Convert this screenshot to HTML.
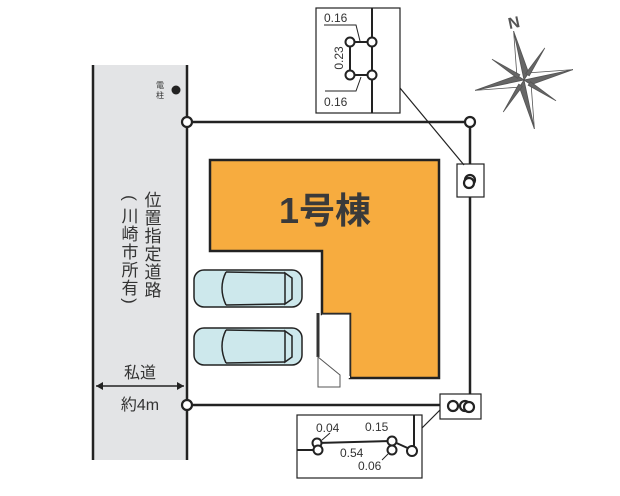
<!DOCTYPE html>
<html><head><meta charset="utf-8"><style>html,body{margin:0;padding:0;background:#fff}svg{display:block}text{font-family:"Liberation Sans","Noto Sans CJK JP",sans-serif}</style></head><body>
<svg width="620" height="496" viewBox="0 0 620 496" xmlns="http://www.w3.org/2000/svg">
<rect x="93" y="65" width="94" height="395" fill="#e3e4e6"/>
<line x1="93" y1="65" x2="93" y2="460" stroke="#222" stroke-width="2.5"/>
<line x1="187" y1="65" x2="187" y2="460" stroke="#222" stroke-width="2.5"/>
<g font-size="17" fill="#333" text-anchor="middle">
<text x="153" y="206">位</text><text x="153" y="224">置</text><text x="153" y="242">指</text><text x="153" y="260">定</text><text x="153" y="278">道</text><text x="153" y="296">路</text>
<text transform="translate(130 198) rotate(90)" dominant-baseline="central">(</text>
<text x="130" y="222">川</text><text x="130" y="240">崎</text><text x="130" y="258">市</text><text x="130" y="276">所</text><text x="130" y="294">有</text>
<text transform="translate(130 301) rotate(90)" dominant-baseline="central">)</text>
<text x="140" y="378" font-size="16">私道</text>
<text x="140" y="410" font-size="16">約4m</text>
</g>
<line x1="96" y1="386" x2="184" y2="386" stroke="#222" stroke-width="1.5"/>
<path d="M96 386l7-4v8zM184 386l-7-4v8z" fill="#222"/>
<text x="160" y="88" font-size="8" fill="#333" text-anchor="middle">電</text>
<text x="160" y="98" font-size="8" fill="#333" text-anchor="middle">柱</text>
<circle cx="176" cy="90" r="4.5" fill="#222"/>
<!-- building -->
<path d="M210 160H439V378H350V314H322V251H210Z" fill="#f7ac3f" stroke="#222" stroke-width="2.5"/>
<rect x="322" y="314" width="28" height="64" fill="#fff"/>
<path d="M318 313V357" stroke="#333" stroke-width="3"/>
<path d="M322 314H350V376" stroke="#333" stroke-width="1.2" fill="none"/>
<path d="M318 357L340 375V387H318Z" fill="#fff" stroke="#555" stroke-width="1"/>
<text x="325" y="223" font-size="36" font-weight="bold" fill="#3a3a3a" text-anchor="middle">1号棟</text>
<!-- cars -->
<g id="car" stroke="#222" stroke-width="1.5" fill="#cde8ec">
<rect x="194" y="270" width="108" height="37" rx="10"/>
<path d="M226 272Q218 288 226 305" fill="none"/>
<path d="M285 273L292 278V299L285 304Z"/>
<line x1="226" y1="272" x2="285" y2="273"/>
<line x1="226" y1="305" x2="285" y2="304"/>
</g>
<use href="#car" y="58"/>
<!-- boundary -->
<g stroke="#222" stroke-width="2.5" fill="none">
<line x1="187" y1="122" x2="470" y2="122"/>
<line x1="470" y1="122" x2="470" y2="405"/>
<line x1="187" y1="405" x2="470" y2="405"/>
</g>
<rect x="457" y="164" width="27" height="33" fill="#fff" stroke="#222" stroke-width="1.2"/>
<rect x="440" y="394" width="41" height="25" fill="#fff" stroke="#222" stroke-width="1.2"/>
<g fill="#fff" stroke="#222" stroke-width="2.2">
<circle cx="187" cy="122" r="5"/><circle cx="470" cy="122" r="5"/><circle cx="187" cy="405" r="5"/>
<circle cx="470" cy="180" r="5"/><circle cx="469" cy="183" r="5"/>
<circle cx="453" cy="406" r="5"/><circle cx="465" cy="406" r="5"/><circle cx="469" cy="407" r="5"/>
</g>
<!-- callout top -->
<line x1="400" y1="88" x2="464" y2="165" stroke="#222" stroke-width="1.2"/>
<rect x="316" y="8" width="84" height="105" fill="#fff" stroke="#222" stroke-width="1.2"/>
<g stroke="#222" stroke-width="2" fill="#fff">
<line x1="372" y1="8" x2="372" y2="113"/>
<line x1="350" y1="42" x2="350" y2="75"/>
<line x1="350" y1="42" x2="372" y2="42"/><line x1="350" y1="75" x2="372" y2="75"/>
<circle cx="350" cy="42" r="4.5"/><circle cx="372" cy="42" r="4.5"/>
<circle cx="350" cy="75" r="4.5"/><circle cx="372" cy="75" r="4.5"/>
</g>
<g stroke="#222" stroke-width="1" fill="none"><path d="M324 25H356L360 41"/><path d="M325 91H356L361 77"/></g>
<g font-size="12" fill="#333"><text x="324" y="22">0.16</text><text x="324" y="106">0.16</text>
<text transform="translate(339 58) rotate(-90)" text-anchor="middle" dominant-baseline="central">0.23</text></g>
<!-- callout bottom -->
<line x1="422" y1="428" x2="440" y2="410" stroke="#222" stroke-width="1.2"/>
<rect x="297" y="415" width="125" height="63" fill="#fff" stroke="#222" stroke-width="1.2"/>
<g stroke="#222" stroke-width="2" fill="#fff">
<line x1="414" y1="415" x2="414" y2="450"/>
<line x1="297" y1="450" x2="317" y2="450"/>
<line x1="317" y1="443" x2="392" y2="441"/>
<line x1="392" y1="441" x2="412" y2="450"/>
<circle cx="317" cy="443" r="4.5"/><circle cx="318" cy="450" r="4.5"/>
<circle cx="392" cy="441" r="4.5"/><circle cx="392" cy="450" r="4.5"/><circle cx="412" cy="451" r="5"/>
</g>
<g stroke="#222" stroke-width="1"><line x1="322" y1="440" x2="330" y2="433"/><line x1="388" y1="454" x2="382" y2="460"/></g>
<g font-size="12" fill="#333"><text x="316" y="432">0.04</text><text x="365" y="431">0.15</text><text x="340" y="457">0.54</text><text x="358" y="470">0.06</text></g>
<!-- compass -->
<g transform="translate(524 80) rotate(-12)" fill="#666" stroke="#555" stroke-width="0.8">
<path d="M0-50L6-6 0 0Z" fill="#666"/><path d="M0-50L-6-6 0 0Z" fill="#fff"/>
<path d="M0 50L-6 6 0 0Z" fill="#666"/><path d="M0 50L6 6 0 0Z" fill="#fff"/>
<path d="M50 0L6 6 0 0Z" fill="#666"/><path d="M50 0L6-6 0 0Z" fill="#fff"/>
<path d="M-50 0L-6-6 0 0Z" fill="#666"/><path d="M-50 0L-6 6 0 0Z" fill="#fff"/>
<path d="M27-27L3-6 6-3Z"/><path d="M-27-27L-3-6-6-3Z"/><path d="M27 27L3 6 6 3Z"/><path d="M-27 27L-3 6-6 3Z"/>
</g>
<text x="508" y="28" font-size="16" font-weight="bold" fill="#555" transform="rotate(-12 514 22)">N</text>
</svg>
</body></html>
